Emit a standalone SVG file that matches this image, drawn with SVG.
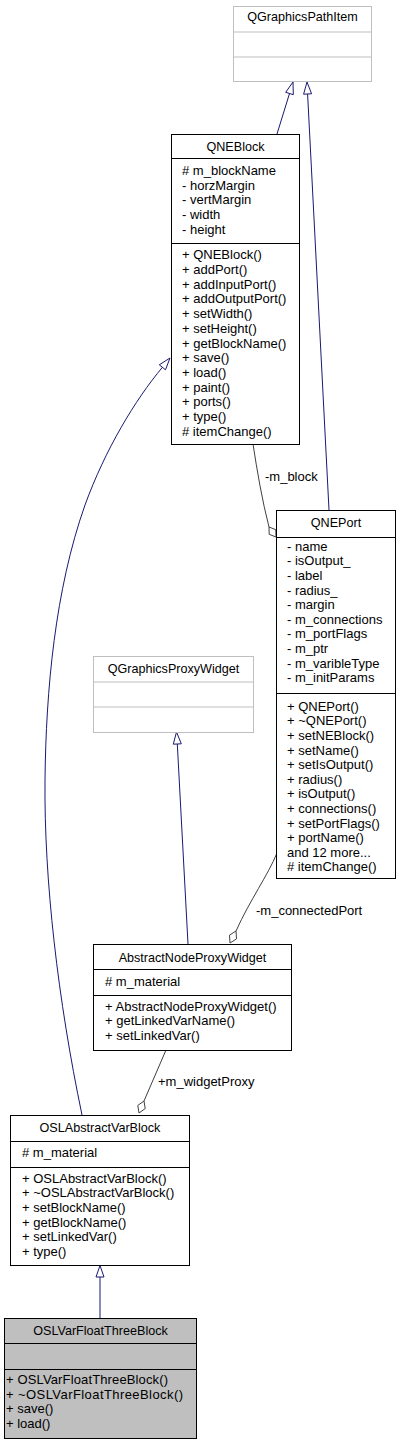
<svg xmlns="http://www.w3.org/2000/svg" width="400" height="1445" viewBox="0 0 400 1445">
<style>
text{font-family:"Liberation Sans",Arial,sans-serif;fill:#000}
.t{font-size:12.6px;text-anchor:middle}
.m{font-size:13px}
.l{font-size:13px}
.box{fill:#fff;stroke:#000;stroke-width:1}
.gbox{fill:#fff;stroke:#bfbfbf;stroke-width:1}
.sel{fill:#bfbfbf;stroke:#000;stroke-width:1}
.inh{fill:none;stroke:#191970;stroke-width:1}
.inhh{fill:#fff;stroke:#191970;stroke-width:1}
.agg{fill:none;stroke:#404040;stroke-width:1}
.aggh{fill:#fff;stroke:#404040;stroke-width:1}
</style>
<rect width="400" height="1445" fill="#fff"/>
<g id="connectors">
<path class="inh" d="M277,134 L289.5,93.5"/>
<polygon class="inhh" points="293,82 293.3,94.7 285.7,92.3"/>
<path class="inh" d="M329,510 L307.6,94"/>
<polygon class="inhh" points="307,82 311.6,93.8 303.6,94.2"/>
<path class="inh" d="M82,1115 C58,1000 44,880 45,780 C46,690 55,590 85,505 C105,450 135,400 162.4,367.3"/>
<polygon class="inhh" points="170,358 165.5,369.8 159.3,364.8"/>
<path class="inh" d="M188,944 L177.3,744"/>
<polygon class="inhh" points="176.5,732 181.3,743.8 173.3,744.2"/>
<path class="inh" d="M100,1318 L100,1277"/>
<polygon class="inhh" points="100,1265.5 104,1277 96,1277"/>
<path class="agg" d="M253,444 C257,470 262,500 269,527"/>
<polygon class="aggh" points="276,537 275.8,529.7 269,527 269.2,534.3"/>
<text class="l" x="265" y="481">-m_block</text>
<path class="agg" d="M277,853 C268,875 250,900 236,931"/>
<polygon class="aggh" points="230,943 236.5,938.9 236,931 229.5,935.1"/>
<text class="l" x="256" y="915">-m_connectedPort</text>
<path class="agg" d="M166,1050 L144,1101"/>
<polygon class="aggh" points="139,1113 145.2,1108.6 144,1101 137.8,1105.4"/>
<text class="l" x="158" y="1086">+m_widgetProxy</text>
</g>
<g id="QGraphicsPathItem">
<rect class="gbox" x="233.5" y="6.5" width="138" height="75"/>
<line class="gbox" x1="233.5" y1="32" x2="371.5" y2="32"/>
<line class="gbox" x1="233.5" y1="57" x2="371.5" y2="57"/>
<text class="t" x="302.5" y="21">QGraphicsPathItem</text>
</g>
<g id="QNEBlock">
<rect class="box" x="171.5" y="134.5" width="128" height="310"/>
<line class="box" x1="171.5" y1="158.5" x2="299.5" y2="158.5"/>
<line class="box" x1="171.5" y1="243.5" x2="299.5" y2="243.5"/>
<text class="t" x="235.5" y="151">QNEBlock</text>
<text class="m" x="182" y="175"># m_blockName</text>
<text class="m" x="182" y="189.7">- horzMargin</text>
<text class="m" x="182" y="204.4">- vertMargin</text>
<text class="m" x="182" y="219.1">- width</text>
<text class="m" x="182" y="233.8">- height</text>
<text class="m" x="182" y="259.3">+ QNEBlock()</text>
<text class="m" x="182" y="274">+ addPort()</text>
<text class="m" x="182" y="288.7">+ addInputPort()</text>
<text class="m" x="182" y="303.4">+ addOutputPort()</text>
<text class="m" x="182" y="318.1">+ setWidth()</text>
<text class="m" x="182" y="332.8">+ setHeight()</text>
<text class="m" x="182" y="347.6">+ getBlockName()</text>
<text class="m" x="182" y="362.3">+ save()</text>
<text class="m" x="182" y="377">+ load()</text>
<text class="m" x="182" y="391.7">+ paint()</text>
<text class="m" x="182" y="406.4">+ ports()</text>
<text class="m" x="182" y="421.1">+ type()</text>
<text class="m" x="182" y="435.8"># itemChange()</text>
</g>
<g id="QNEPort">
<rect class="box" x="276.5" y="510.5" width="119" height="368"/>
<line class="box" x1="276.5" y1="537.5" x2="395.5" y2="537.5"/>
<line class="box" x1="276.5" y1="693.5" x2="395.5" y2="693.5"/>
<text class="t" x="336" y="527">QNEPort</text>
<text class="m" x="287" y="550.7">- name</text>
<text class="m" x="287" y="565.3">- isOutput_</text>
<text class="m" x="287" y="579.9">- label</text>
<text class="m" x="287" y="594.5">- radius_</text>
<text class="m" x="287" y="609.1">- margin</text>
<text class="m" x="287" y="623.7">- m_connections</text>
<text class="m" x="287" y="638.3">- m_portFlags</text>
<text class="m" x="287" y="652.9">- m_ptr</text>
<text class="m" x="287" y="667.5">- m_varibleType</text>
<text class="m" x="287" y="682.1">- m_initParams</text>
<text class="m" x="287" y="710.7">+ QNEPort()</text>
<text class="m" x="287" y="725.3">+ ~QNEPort()</text>
<text class="m" x="287" y="739.9">+ setNEBlock()</text>
<text class="m" x="287" y="754.5">+ setName()</text>
<text class="m" x="287" y="769.1">+ setIsOutput()</text>
<text class="m" x="287" y="783.7">+ radius()</text>
<text class="m" x="287" y="798.3">+ isOutput()</text>
<text class="m" x="287" y="812.9">+ connections()</text>
<text class="m" x="287" y="827.5">+ setPortFlags()</text>
<text class="m" x="287" y="842.1">+ portName()</text>
<text class="m" x="287" y="856.7">and 12 more...</text>
<text class="m" x="287" y="871.3"># itemChange()</text>
</g>
<g id="QGraphicsProxyWidget">
<rect class="gbox" x="93.5" y="656.5" width="160" height="76"/>
<line class="gbox" x1="93.5" y1="682" x2="253.5" y2="682"/>
<line class="gbox" x1="93.5" y1="707" x2="253.5" y2="707"/>
<text class="t" x="173.5" y="673.3">QGraphicsProxyWidget</text>
</g>
<g id="AbstractNodeProxyWidget">
<rect class="box" x="93.5" y="944.5" width="198" height="106"/>
<line class="box" x1="93.5" y1="969.5" x2="291.5" y2="969.5"/>
<line class="box" x1="93.5" y1="995.5" x2="291.5" y2="995.5"/>
<text class="t" x="192.5" y="961.7">AbstractNodeProxyWidget</text>
<text class="m" x="105" y="986"># m_material</text>
<text class="m" x="105" y="1010.7">+ AbstractNodeProxyWidget()</text>
<text class="m" x="105" y="1025.3">+ getLinkedVarName()</text>
<text class="m" x="105" y="1039.9">+ setLinkedVar()</text>
</g>
<g id="OSLAbstractVarBlock">
<rect class="box" x="10.5" y="1115.5" width="179" height="150"/>
<line class="box" x1="10.5" y1="1141.5" x2="189.5" y2="1141.5"/>
<line class="box" x1="10.5" y1="1167.5" x2="189.5" y2="1167.5"/>
<text class="t" x="100" y="1132.3">OSLAbstractVarBlock</text>
<text class="m" x="22" y="1156.7"># m_material</text>
<text class="m" x="22" y="1182.7">+ OSLAbstractVarBlock()</text>
<text class="m" x="22" y="1197.3">+ ~OSLAbstractVarBlock()</text>
<text class="m" x="22" y="1211.9">+ setBlockName()</text>
<text class="m" x="22" y="1226.5">+ getBlockName()</text>
<text class="m" x="22" y="1241.1">+ setLinkedVar()</text>
<text class="m" x="22" y="1255.7">+ type()</text>
</g>
<g id="OSLVarFloatThreeBlock">
<rect class="sel" x="4.5" y="1318.5" width="192" height="120"/>
<line class="box" x1="4.5" y1="1343.5" x2="196.5" y2="1343.5"/>
<line class="box" x1="4.5" y1="1369.5" x2="196.5" y2="1369.5"/>
<text class="t" x="100.5" y="1335.3">OSLVarFloatThreeBlock</text>
<text class="m" x="6" y="1384" textLength="162" lengthAdjust="spacing">+ OSLVarFloatThreeBlock()</text>
<text class="m" x="6" y="1398.6" textLength="177" lengthAdjust="spacing">+ ~OSLVarFloatThreeBlock()</text>
<text class="m" x="6" y="1413.2">+ save()</text>
<text class="m" x="6" y="1427.8">+ load()</text>
</g>
</svg>
